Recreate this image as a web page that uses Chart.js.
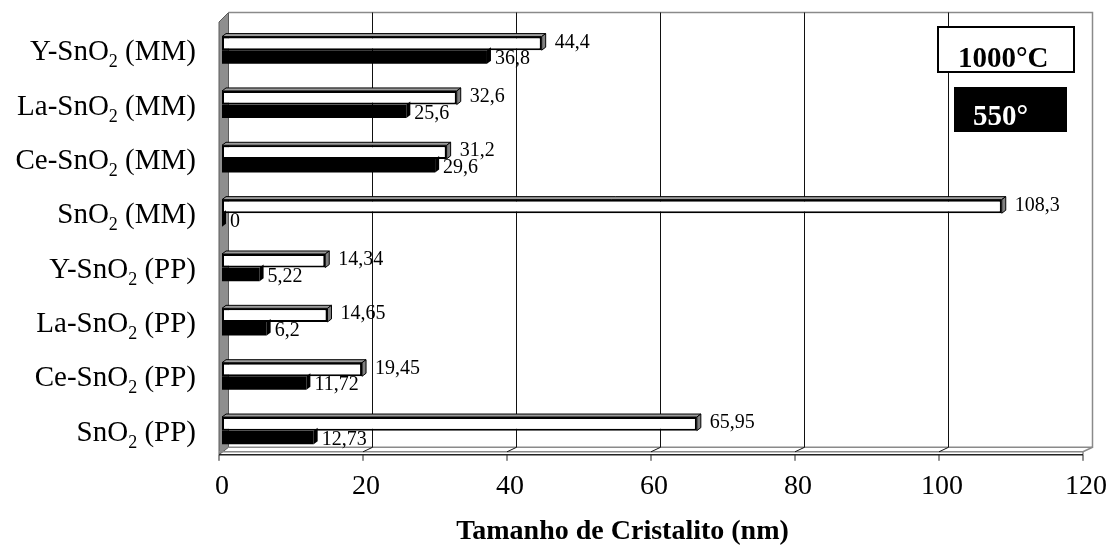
<!DOCTYPE html>
<html>
<head>
<meta charset="utf-8">
<script src="https://cdn.jsdelivr.net/npm/chart.js@4/dist/chart.umd.min.js"></script>
<style>
  html, body { margin: 0; padding: 0; background: #ffffff; }
  #wrap { width: 1107px; height: 550px; }
</style>
</head>
<body>
<div id="wrap"><canvas id="c" width="1107" height="550"></canvas></div>
<script>
// ---- data ----
const categories = ['Y-SnO₂ (MM)', 'La-SnO₂ (MM)', 'Ce-SnO₂ (MM)', 'SnO₂ (MM)',
                    'Y-SnO₂ (PP)', 'La-SnO₂ (PP)', 'Ce-SnO₂ (PP)', 'SnO₂ (PP)'];
const seriesNames = ['1000°C', '550°'];
const values1000 = [44.4, 32.6, 31.2, 108.3, 14.34, 14.65, 19.45, 65.95];
const values550  = [36.8, 25.6, 29.6, 0, 5.22, 6.2, 11.72, 12.73];
const xMin = 0, xMax = 120, xStep = 20;
const xTitle = 'Tamanho de Cristalito (nm)';

// ---- style constants ----
const SERIF = '"Liberation Serif", "Times New Roman", serif';
const BACK_DX = 6.5, BACK_DY = -10.5;  // back wall offset from bar plane
const FRONT_DX = -3;                    // front floor offset
const BAR_DX = 4, BAR_DY = 3;           // bar depth

const fmt = v => String(v).replace('.', ',');

const frame3d = {
  id: 'frame3d',
  beforeDatasetsDraw(chart) {
    const {ctx, chartArea: ca, scales: {x}} = chart;
    const left = x.getPixelForValue(xMin);
    const right = x.getPixelForValue(xMax);
    const bTop = ca.top + BACK_DY, bBot = ca.bottom + BACK_DY;
    const fTopY = ca.bottom - 6, fBotY = ca.bottom - 3;
    ctx.save();
    // left wall
    ctx.beginPath();
    ctx.moveTo(left + FRONT_DX, bTop + (BACK_DX - FRONT_DX));
    ctx.lineTo(left + BACK_DX, bTop);
    ctx.lineTo(left + BACK_DX, bBot);
    ctx.lineTo(left + FRONT_DX, fBotY);
    ctx.closePath();
    ctx.fillStyle = '#8e8e8e';
    ctx.fill();
    ctx.strokeStyle = '#5a5a5a';
    ctx.lineWidth = 1;
    ctx.stroke();
    // back wall outline
    ctx.strokeStyle = '#8a8a8a';
    ctx.lineWidth = 1.5;
    ctx.beginPath();
    ctx.moveTo(left + BACK_DX, bTop);
    ctx.lineTo(right + BACK_DX, bTop);
    ctx.lineTo(right + BACK_DX, bBot);
    ctx.lineTo(left + BACK_DX, bBot);
    ctx.stroke();
    // floor
    ctx.beginPath();
    ctx.moveTo(right + BACK_DX, bBot);
    ctx.lineTo(right + FRONT_DX, fTopY);
    ctx.lineTo(left + FRONT_DX, fTopY);
    ctx.moveTo(right + FRONT_DX, fTopY);
    ctx.lineTo(right + FRONT_DX, fBotY);
    ctx.stroke();
    ctx.strokeStyle = '#222';
    ctx.lineWidth = 1.5;
    ctx.beginPath();
    ctx.moveTo(left + FRONT_DX, fBotY);
    ctx.lineTo(right + FRONT_DX, fBotY);
    ctx.stroke();
    // gridlines on the back wall + floor diagonals + front ticks
    x.ticks.forEach(t => {
      const px = x.getPixelForValue(t.value);
      ctx.strokeStyle = '#111';
      ctx.lineWidth = 1;
      if (t.value !== xMin && t.value !== xMax) {
        ctx.beginPath();
        ctx.moveTo(px + BACK_DX, bTop);
        ctx.lineTo(px + BACK_DX, bBot);
        ctx.lineTo(px + FRONT_DX, fTopY);
        ctx.stroke();
      }
      ctx.strokeStyle = '#222';
      ctx.beginPath();
      ctx.moveTo(px + FRONT_DX, fBotY);
      ctx.lineTo(px + FRONT_DX, fBotY + 6);
      ctx.stroke();
    });
    ctx.restore();
  },
  afterDatasetsDraw(chart) {
    const {ctx} = chart;
    ctx.save();
    chart.data.datasets.forEach((ds, di) => {
      const meta = chart.getDatasetMeta(di);
      meta.data.forEach((el, i) => {
        const p = el.getProps(['x', 'y', 'base', 'height'], true);
        const top = p.y - p.height / 2, bot = p.y + p.height / 2;
        const xe = p.x;
        ctx.lineWidth = 1;
        ctx.strokeStyle = '#000';
        if (di === 0) {
          // top face
          ctx.beginPath();
          ctx.moveTo(p.base, top);
          ctx.lineTo(p.base + BAR_DX, top - BAR_DY);
          ctx.lineTo(xe + BAR_DX, top - BAR_DY);
          ctx.lineTo(xe, top);
          ctx.closePath();
          ctx.fillStyle = '#9c9c9c';
          ctx.fill();
          ctx.stroke();
          // right face
          ctx.beginPath();
          ctx.moveTo(xe, top);
          ctx.lineTo(xe + BAR_DX, top - BAR_DY);
          ctx.lineTo(xe + BAR_DX, bot - BAR_DY);
          ctx.lineTo(xe, bot);
          ctx.closePath();
          ctx.fillStyle = '#808080';
          ctx.fill();
          ctx.stroke();
        } else {
          ctx.beginPath();
          ctx.moveTo(xe, top);
          ctx.lineTo(xe + BAR_DX, top - BAR_DY);
          ctx.lineTo(xe + BAR_DX, bot - BAR_DY);
          ctx.lineTo(xe, bot);
          ctx.closePath();
          ctx.fillStyle = '#000';
          ctx.fill();
        }
        // value label
        ctx.fillStyle = '#000';
        ctx.font = '20px ' + SERIF;
        ctx.textAlign = 'left';
        ctx.textBaseline = 'middle';
        const v = ds.data[i];
        if (di === 0) ctx.fillText(fmt(v), xe + BAR_DX + 9, p.y - 1);
        else ctx.fillText(fmt(v), xe + 8, p.y + 2);
      });
    });
    ctx.restore();
  },
  afterDraw(chart) {
    const {ctx, scales: {y}} = chart;
    ctx.save();
    // category labels with subscript
    const mainFont = '29px ' + SERIF, subFont = '18px ' + SERIF;
    ctx.fillStyle = '#000';
    ctx.textBaseline = 'alphabetic';
    ctx.textAlign = 'left';
    chart.data.labels.forEach((lab, i) => {
      const yc = y.getPixelForValue(i);
      const parts = lab.split('₂');
      ctx.font = mainFont;
      const w0 = ctx.measureText(parts[0]).width;
      const w2 = parts.length > 1 ? ctx.measureText(parts[1]).width : 0;
      ctx.font = subFont;
      const ws = parts.length > 1 ? ctx.measureText('2').width : 0;
      const rightX = 196;
      let xx = rightX - (w0 + ws + w2);
      const base = yc + 10;
      ctx.font = mainFont;
      ctx.fillText(parts[0], xx, base);
      xx += w0;
      if (parts.length > 1) {
        ctx.font = subFont;
        ctx.fillText('2', xx, base + 7);
        xx += ws;
        ctx.font = mainFont;
        ctx.fillText(parts[1], xx, base);
      }
    });
    // legend
    const ds = chart.data.datasets;
    ctx.lineWidth = 2;
    ctx.strokeStyle = '#000';
    ctx.fillStyle = '#fff';
    ctx.fillRect(938, 27, 136, 45);
    ctx.strokeRect(938, 27, 136, 45);
    ctx.fillStyle = '#000';
    ctx.font = 'bold 29px ' + SERIF;
    ctx.fillText(ds[0].label, 958, 67);
    ctx.fillStyle = '#000';
    ctx.fillRect(954, 87, 113, 45);
    ctx.fillStyle = '#fff';
    ctx.fillText(ds[1].label, 973, 125);
    ctx.restore();
  }
};

new Chart(document.getElementById('c'), {
  type: 'bar',
  data: {
    labels: categories,
    datasets: [
      { label: seriesNames[0], data: values1000, backgroundColor: '#ffffff',
        borderColor: '#000000', borderWidth: 2, borderSkipped: false,
        barPercentage: 1, categoryPercentage: 0.5 },
      { label: seriesNames[1], data: values550, backgroundColor: '#000000',
        borderWidth: 0, barPercentage: 1, categoryPercentage: 0.5 }
    ]
  },
  options: {
    indexAxis: 'y',
    responsive: false,
    animation: false,
    devicePixelRatio: 1,
    layout: { padding: { left: 222, right: 21, top: 23, bottom: 1 } },
    plugins: { legend: { display: false }, tooltip: { enabled: false } },
    scales: {
      x: {
        type: 'linear', min: xMin, max: xMax,
        afterFit: s => { s.paddingRight = 0; s.paddingLeft = 0; },
        grid: { display: false, drawTicks: false },
        border: { display: false },
        ticks: { stepSize: xStep, padding: 12, color: '#000',
                 font: { family: SERIF, size: 28 } },
        title: { display: true, text: xTitle + '         ', color: '#000',
                 font: { family: SERIF, size: 28, weight: 'bold' },
                 padding: { top: 0, bottom: 0 } }
      },
      y: { display: false }
    }
  },
  plugins: [frame3d]
});
</script>
</body>
</html>
